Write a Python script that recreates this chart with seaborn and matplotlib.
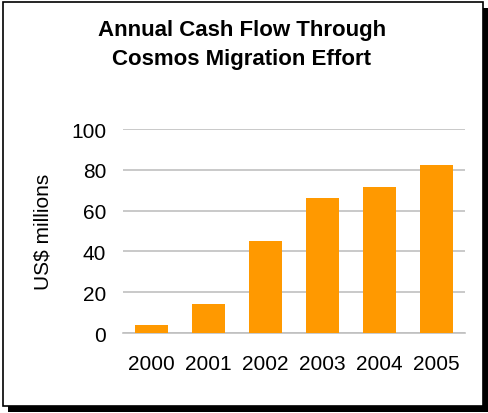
import matplotlib
matplotlib.use("Agg")
import matplotlib.pyplot as plt
import seaborn as sns
import pandas as pd
from matplotlib.patches import Rectangle

years = ["2000", "2001", "2002", "2003", "2004", "2005"]
values = [4, 14, 45, 66, 71.5, 82.5]
yticks = [0, 20, 40, 60, 80, 100]
title = "Annual Cash Flow Through\nCosmos Migration Effort"
ylabel = "US$ millions"

sns.set_theme(style="white")
plt.rcParams["font.family"] = ["Liberation Sans", "DejaVu Sans"]

W, H = 489, 414
fig = plt.figure(figsize=(W / 100, H / 100), dpi=100)
fig.patch.set_facecolor("white")

def px_rect(x0, y0, x1, y1, **kw):
    return Rectangle((x0 / W, 1 - y1 / H), (x1 - x0) / W, (y1 - y0) / H,
                     transform=fig.transFigure, **kw)

# shadow and frame
fig.patches.append(px_rect(8, 9, 489, 413, facecolor="black", edgecolor="none", zorder=0))
fig.patches.append(px_rect(3, 3, 483, 407, facecolor="white", edgecolor="black", linewidth=1.2, zorder=1))

ax = fig.add_axes([122.7 / W, 1 - 334 / H, (465 - 122.7) / W, (334 - 130) / H])
ax.set_facecolor("none")
ax.set_zorder(2)

df = pd.DataFrame({"year": years, "value": values})
sns.barplot(data=df, x="year", y="value", color="#FF9900", saturation=1,
            width=0.58, linewidth=0, ax=ax, zorder=3)

ax.set_ylim(0, 100)
ax.set_yticks(yticks)
ax.yaxis.grid(True, color="#c0c0c0", linewidth=1.2)
ax.set_axisbelow(True)
for s in ["top", "right", "left"]:
    ax.spines[s].set_visible(False)
ax.spines["bottom"].set_color("#c0c0c0")
ax.spines["bottom"].set_linewidth(1.2)
ax.tick_params(axis="both", length=0, labelsize=15, colors="black")
ax.tick_params(axis="y", pad=12)
ax.tick_params(axis="x", pad=15)
ax.set_xlabel("")
ax.set_ylabel(ylabel, fontsize=15, color="black", labelpad=13)

fig.text(242 / W, 1 - 45 / H, title, ha="center", va="center",
         fontsize=16, fontweight="bold", color="black", linespacing=1.45)

fig.savefig("out.png", dpi=100, facecolor="white")
